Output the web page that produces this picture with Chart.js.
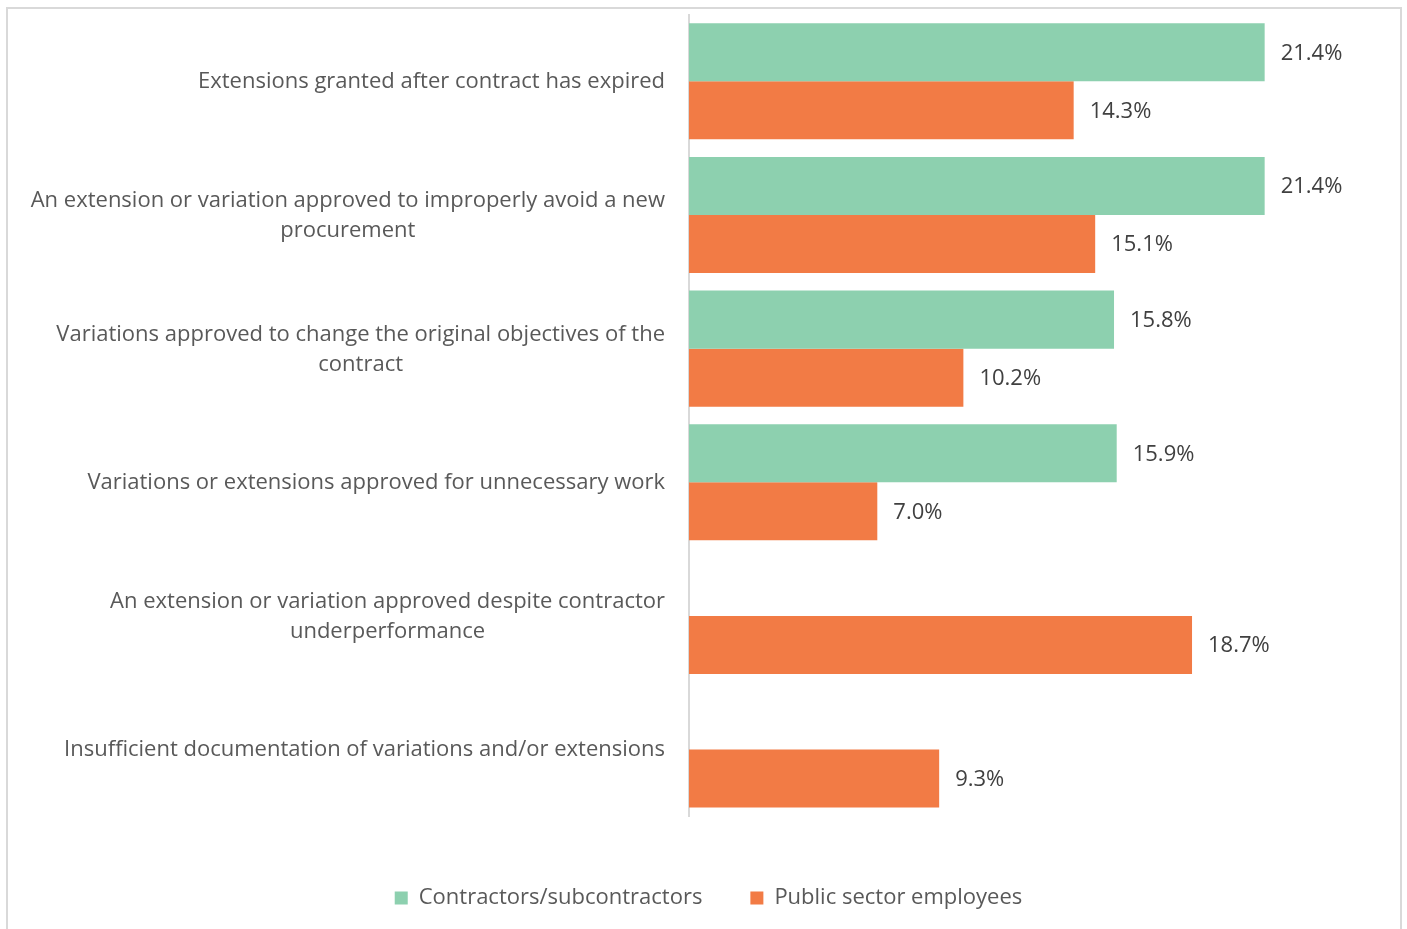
<!DOCTYPE html>
<html>
<head>
<meta charset="utf-8">
<script src="https://cdn.jsdelivr.net/npm/chart.js@4.4.1/dist/chart.umd.min.js"></script>
<style>
  html, body { margin: 0; padding: 0; background: #ffffff; overflow: hidden; }
  #frame {
    position: absolute; left: 6px; top: 7px; width: 1392px; height: 960px;
    border: 2px solid #d9d9d9; box-sizing: content-box;
  }
  #wrap { position: absolute; left: 0; top: 0; width: 1407px; height: 929px; }
</style>
</head>
<body>
<div id="frame"></div>
<div id="wrap"><canvas id="chart" width="1407" height="929"></canvas></div>
<script>
// Contract variation / extension issues, share of respondents by group
const categories = [
  ["Extensions granted after contract has expired"],
  ["An extension or variation approved to improperly avoid a new", "procurement"],
  ["Variations approved to change the original objectives of the", "contract"],
  ["Variations or extensions approved for unnecessary work"],
  ["An extension or variation approved despite contractor", "underperformance"],
  ["Insufficient documentation of variations and/or extensions"]
];
const contractors = [21.4, 21.4, 15.8, 15.9, null, null];
const publicSector = [14.3, 15.1, 10.2, 7.0, 18.7, 9.3];
const seriesNames = ["Contractors/subcontractors", "Public sector employees"];

const FONT = "'Open Sans', sans-serif";
const FONT_SIZE = 22;
const TEXT_GREY = '#595959';

// Category labels: block right-aligned next to the axis, wrapped lines centred within the block
const categoryLabels = {
  id: 'categoryLabels',
  afterDraw(chart) {
    const ctx = chart.ctx;
    const y = chart.scales.y;
    const right = chart.chartArea.left - 24;
    const lineH = 29.5;
    ctx.save();
    ctx.font = FONT_SIZE + 'px ' + FONT;
    ctx.fillStyle = TEXT_GREY;
    ctx.textAlign = 'center';
    ctx.textBaseline = 'middle';
    chart.data.labels.forEach((lines, i) => {
      const cy = y.getPixelForValue(i);
      const w = Math.max(...lines.map(l => ctx.measureText(l).width));
      const cx = right - w / 2;
      const top = cy - (lines.length - 1) * lineH / 2 + (lines.length > 1 ? 1 : 0);
      lines.forEach((l, k) => ctx.fillText(l, cx, top + k * lineH));
    });
    ctx.restore();
  }
};

// Value labels just past the end of each bar
const valueLabels = {
  id: 'valueLabels',
  afterDatasetsDraw(chart) {
    const ctx = chart.ctx;
    ctx.save();
    ctx.font = FONT_SIZE + 'px ' + FONT;
    ctx.fillStyle = '#404040';
    ctx.textAlign = 'left';
    ctx.textBaseline = 'middle';
    chart.data.datasets.forEach((ds, di) => {
      const meta = chart.getDatasetMeta(di);
      meta.data.forEach((bar, i) => {
        const v = ds.data[i];
        if (v === null || v === undefined) return;
        ctx.fillText(v.toFixed(1) + '%', bar.x + 16, bar.y + 1);
      });
    });
    ctx.restore();
  }
};

new Chart(document.getElementById('chart'), {
  type: 'bar',
  data: {
    labels: categories,
    datasets: [
      { label: seriesNames[0], data: contractors, backgroundColor: '#8dd0af', borderWidth: 0 },
      { label: seriesNames[1], data: publicSector, backgroundColor: '#f27b45', borderWidth: 0 }
    ]
  },
  options: {
    indexAxis: 'y',
    responsive: false,
    animation: false,
    layout: { padding: { top: 14.5, right: 45.5, bottom: 10, left: 55.5 } },
    datasets: { bar: { categoryPercentage: 0.868, barPercentage: 1.0 } },
    scales: {
      x: {
        min: 0, max: 25,
        grid: { display: false },
        border: { display: false },
        ticks: { display: false },
        afterFit(scale) { scale.height = 22.6; }
      },
      y: {
        grid: { display: false, drawTicks: false },
        border: { display: true, color: '#d9d9d9', width: 2 },
        ticks: { display: false },
        afterFit(scale) { scale.width = 633.5; }
      }
    },
    plugins: {
      legend: {
        position: 'bottom',
        labels: {
          boxWidth: 13, boxHeight: 13, padding: 48,
          color: TEXT_GREY,
          font: { size: FONT_SIZE, family: FONT }
        }
      },
      tooltip: { enabled: false }
    }
  },
  plugins: [categoryLabels, valueLabels]
});
</script>
</body>
</html>
